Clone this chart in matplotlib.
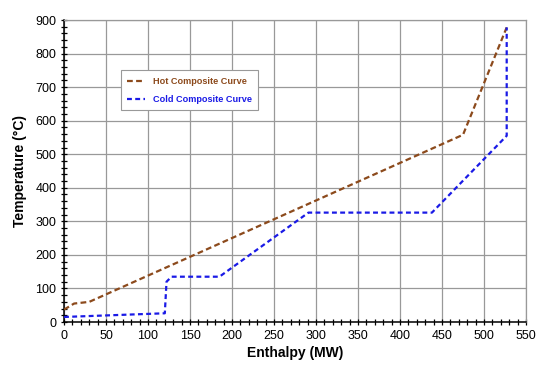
import matplotlib
matplotlib.use('Agg')
import matplotlib.pyplot as plt
from matplotlib.ticker import MultipleLocator

# composite curve data
hot_enthalpy = [0, 12, 30, 475, 527]
hot_temp = [37, 55, 60, 558, 878]

cold_enthalpy = [0, 120, 122, 128, 185, 291, 438, 527, 527]
cold_temp = [15, 26, 120, 135, 135, 326, 326, 555, 878]

hot_color = '#8C4A1C'
cold_color = '#1A1AE6'
grid_color = '#999999'

plt.rcParams['font.family'] = ['Liberation Sans', 'DejaVu Sans']

fig = plt.figure(figsize=(5.5, 3.76), dpi=100)
ax = fig.add_axes([0.1164, 0.1436, 0.84, 0.8032])

ax.plot(hot_enthalpy, hot_temp, color=hot_color, linewidth=1.6,
        dashes=(2.6, 1.5), label='Hot Composite Curve', zorder=3)
ax.plot(cold_enthalpy, cold_temp, color=cold_color, linewidth=1.6,
        dashes=(2.2, 1.5), label='Cold Composite Curve', zorder=3)

ax.set_xlim(0, 550)
ax.set_ylim(0, 900)
ax.xaxis.set_major_locator(MultipleLocator(50))
ax.xaxis.set_minor_locator(MultipleLocator(10))
ax.yaxis.set_major_locator(MultipleLocator(100))
ax.yaxis.set_minor_locator(MultipleLocator(20))

ax.grid(True, which='major', color=grid_color, linewidth=0.9)
ax.set_axisbelow(True)

for side in ['top', 'right']:
    ax.spines[side].set_color(grid_color)
    ax.spines[side].set_linewidth(0.9)
for side in ['left', 'bottom']:
    ax.spines[side].set_color('black')
    ax.spines[side].set_linewidth(1.1)

ax.tick_params(which='both', direction='inout', length=5, width=0.9,
               color='black', labelsize=9, pad=3)

ax.set_xlabel('Enthalpy (MW)', fontsize=10, fontweight='bold', labelpad=3)
ax.set_ylabel('Temperature (\u00b0C)', fontsize=10, fontweight='bold', labelpad=6)

leg = ax.legend(loc='upper left', bbox_to_anchor=(0.123, 0.833),
                prop={'size': 6.6, 'weight': 'bold'}, frameon=True,
                fancybox=False, edgecolor=grid_color, framealpha=1,
                handlelength=1.9, borderpad=0.7, labelspacing=1.0,
                handletextpad=0.9, borderaxespad=0)
leg.get_frame().set_linewidth(0.8)
for txt, c in zip(leg.get_texts(), [hot_color, cold_color]):
    txt.set_color(c)

fig.savefig('out.png', dpi=100)
